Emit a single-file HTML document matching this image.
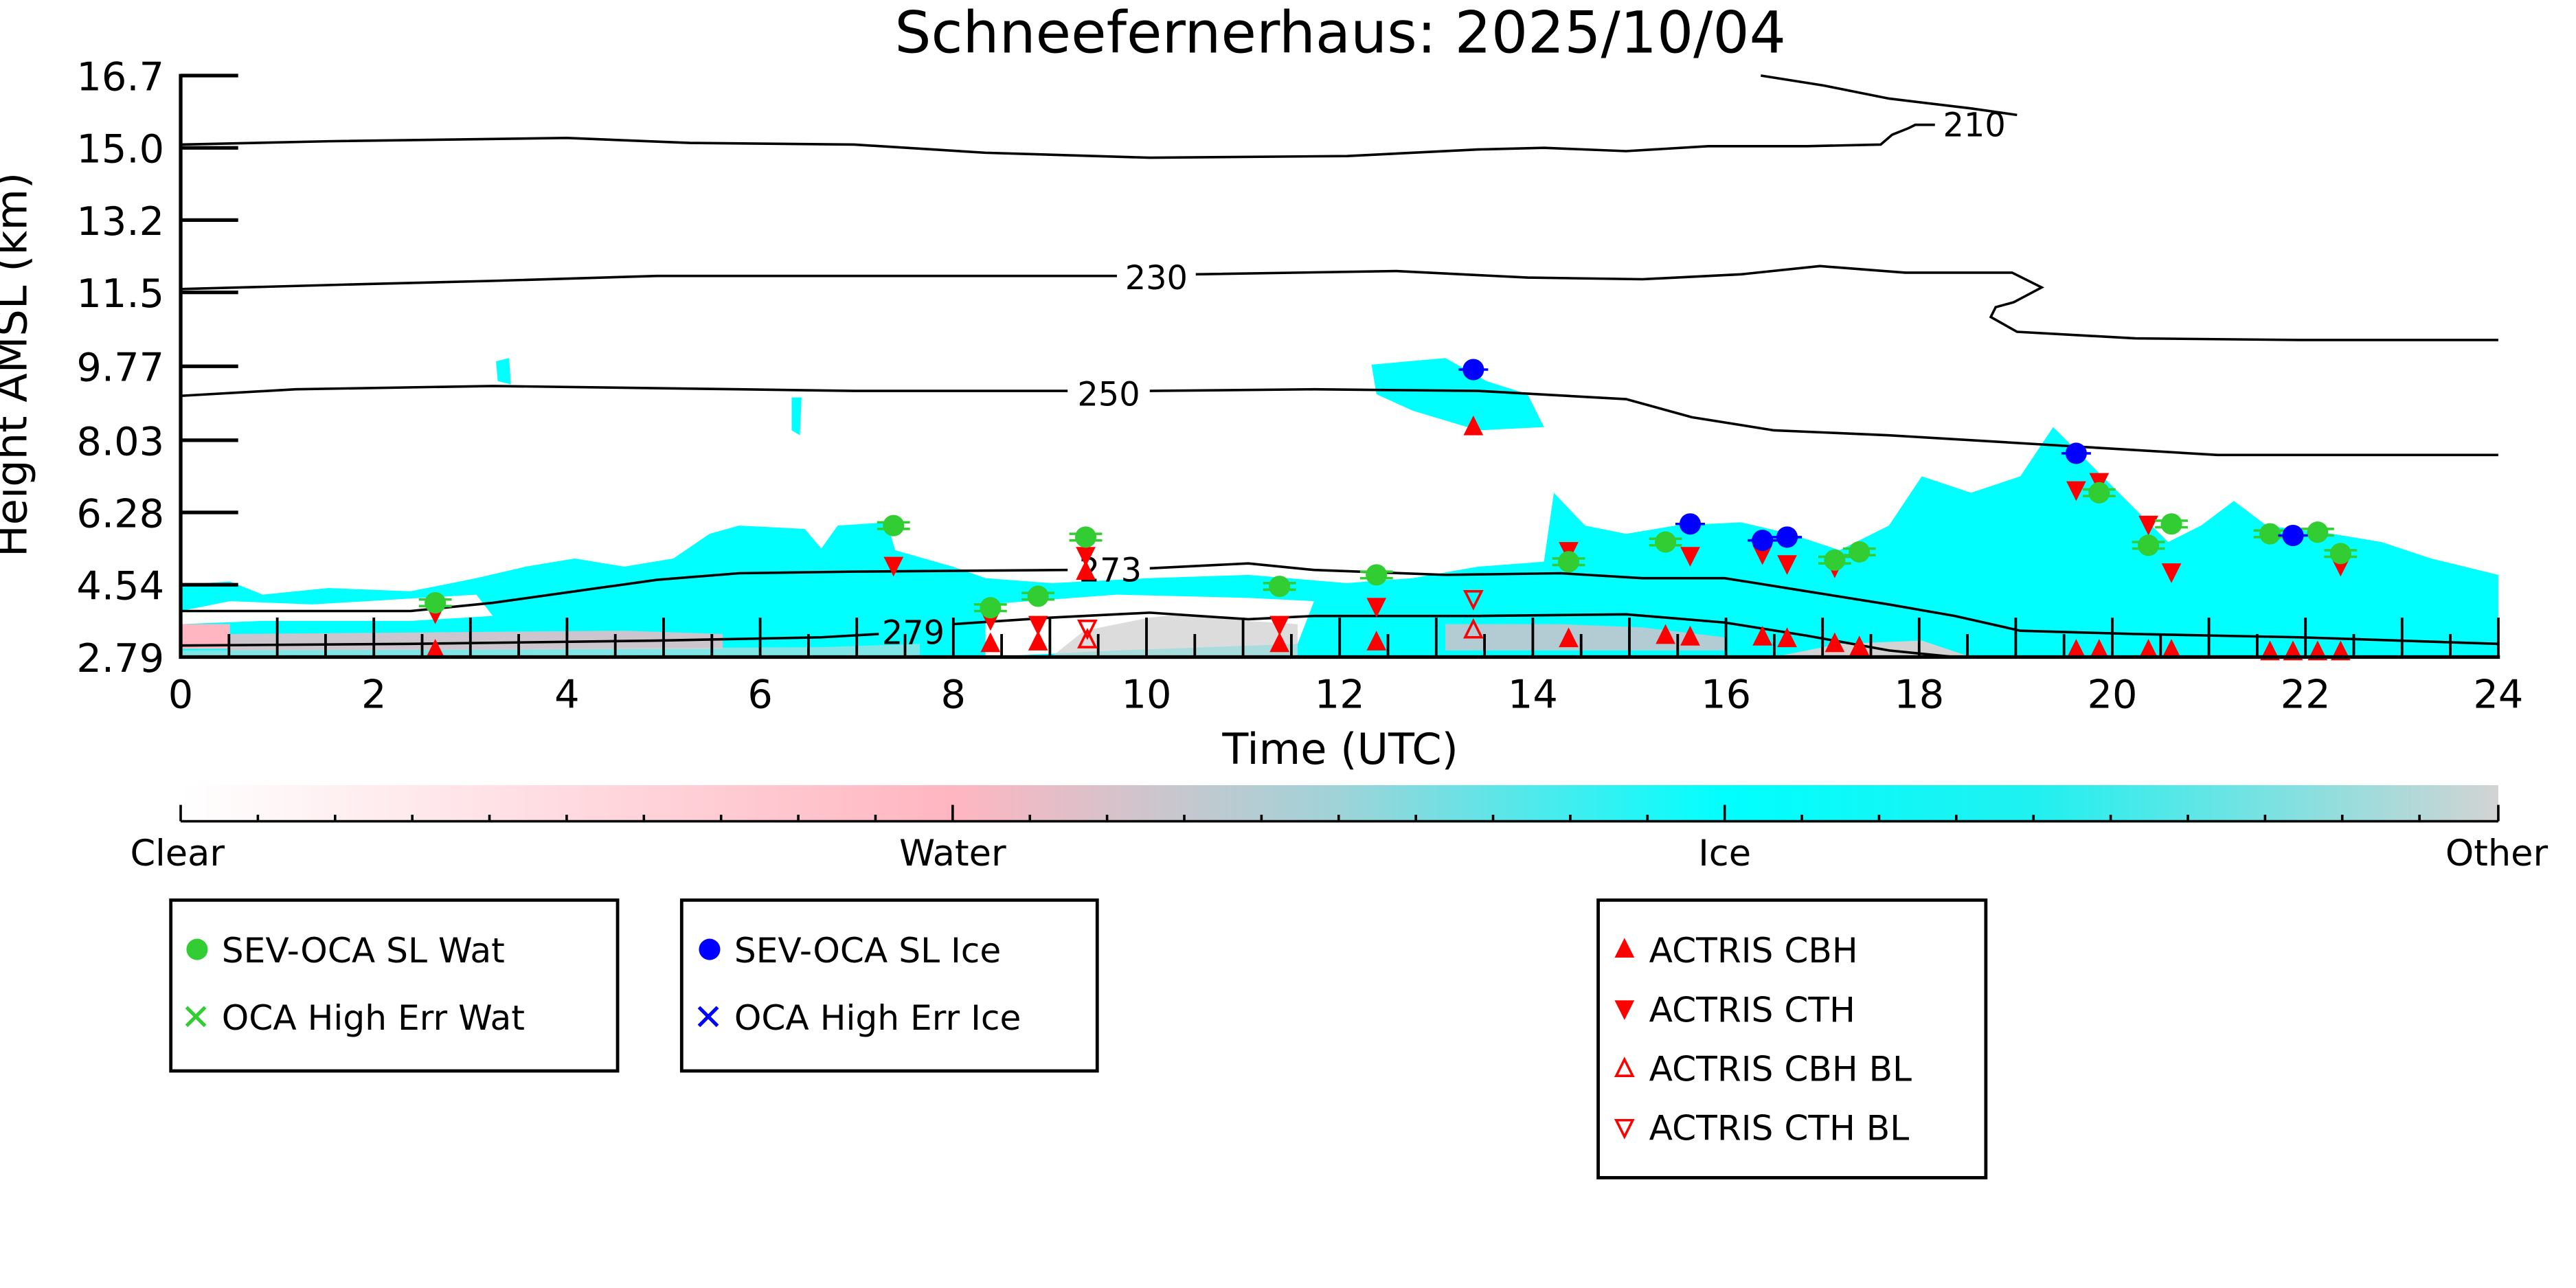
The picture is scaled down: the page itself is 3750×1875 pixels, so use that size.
<!DOCTYPE html>
<html><head><meta charset="utf-8"><style>
html,body{margin:0;padding:0;background:#fff;overflow:hidden}
svg{display:block}
text{font-family:"DejaVu Sans","Liberation Sans",sans-serif;fill:#000}
</style></head><body>
<svg width="3750" height="1875" viewBox="0 0 1562.5 781.25" xmlns="http://www.w3.org/2000/svg">
<defs>
<linearGradient id="cb" x1="0" x2="1" y1="0" y2="0">
<stop offset="0" stop-color="#ffffff"/>
<stop offset="0.333" stop-color="#ffb6c1"/>
<stop offset="0.5" stop-color="#9fd3d8"/>
<stop offset="0.667" stop-color="#00ffff"/>
<stop offset="0.8" stop-color="#20f0f0"/>
<stop offset="1" stop-color="#d3d3d3"/>
</linearGradient>
<g id="gc"><line x1="-10" x2="10" y1="-2" y2="-2" stroke="#32cd32" stroke-width="1.5"/><line x1="-10" x2="10" y1="2" y2="2" stroke="#32cd32" stroke-width="1.5"/><circle r="6.5" fill="#32cd32"/></g>
<g id="bc"><line x1="-9" x2="9" y1="0" y2="0" stroke="#0000ff" stroke-width="1.5"/><circle r="6.5" fill="#0000ff"/></g>
<path id="up" d="M0,-7 L6,5 L-6,5Z" fill="#ff0000"/>
<path id="dn" d="M0,7 L6,-5 L-6,-5Z" fill="#ff0000"/>
<path id="uph" d="M0,-6 L5,4 L-5,4Z" fill="none" stroke="#ff0000" stroke-width="1.5"/>
<path id="dnh" d="M0,6 L5,-4 L-5,-4Z" fill="none" stroke="#ff0000" stroke-width="1.5"/>
</defs>
<g transform="scale(0.9963)">
<text x="816" y="32" font-size="35" text-anchor="middle">Schneefernerhaus: 2025/10/04</text>

<!-- cloud fills -->
<g>
<polygon fill="#00ffff" points="110,400 110,356 140,354 160,362 200,358 250,360 290,352 320,345 350,340 380,345 410,340 432,325 450,320 490,322 500,334 510,320 540,318 545,335 580,345 600,352 640,355 700,352 760,350 820,355 860,352 900,345 940,342 946,300 965,320 990,325 1020,320 1060,318 1090,325 1120,335 1150,320 1170,290 1200,300 1230,290 1250,260 1270,280 1290,300 1320,330 1340,320 1360,305 1380,320 1420,325 1450,330 1480,340 1521,350 1521,400"/>
<polygon fill="#00ffff" points="835,222 880,218 905,232 930,240 940,260 900,262 860,250 838,240"/>
<polygon fill="#00ffff" points="302,220 310,218 311,234 303,232"/>
<polygon fill="#00ffff" points="482,242 488,242 487,265 482,262"/>
<polygon fill="#ffffff" points="600,400 600,368 680,362 760,364 800,366 790,392 680,396"/>
<polygon fill="#d3d3d3" opacity="0.8" points="640,400 660,384 700,376 720,374 760,378 790,380 790,400"/>
<polygon fill="#ffffff" points="110,372 140,366 190,368 240,365 290,362 300,375 250,378 160,378 110,380"/>
<polygon fill="#ffb6c1" points="110,380 140,380 140,395 110,395"/>
<polygon fill="#ffb6c1" opacity="0.8" points="140,386 260,385 380,384 440,386 440,395 140,396"/>
<polygon fill="#ffb6c1" opacity="0.7" points="880,380 950,380 1000,382 1050,388 1050,396 880,396"/>
<polygon fill="#d3d3d3" points="1080,400 1120,392 1170,390 1200,400"/>
<polygon fill="#d3d3d3" opacity="0.6" points="110,400 110,396 500,394 560,392 560,400"/>
</g>

<!-- contours -->
<g fill="none" stroke="#000" stroke-width="1.5">
<polyline points="1072,46 1110,52 1150,60 1200,66 1228,70"/>
<polyline points="110,88 200,86 345,84 420,87 520,88 600,93 700,96 820,95 900,91 940,90 990,92 1040,89 1100,89 1145,88 1152,82 1162,78 1166,76 1178,76"/>
<polyline points="110,176 220,173 300,171 400,168 500,168 680,168"/>
<polyline points="728,167 850,165 930,169 1000,170 1060,167 1108,162 1160,166 1225,166 1243,175 1226,184 1215,187 1212,193 1228,202 1300,206 1400,207 1521,207"/>
<polyline points="110,241 180,237 300,235 450,237 520,238 650,238"/>
<polyline points="700,238 800,237 900,238 990,243 1030,254 1080,262 1150,265 1250,271 1350,277 1521,277"/>
<polyline points="110,372 180,372 250,372 300,367 350,360 400,353 450,349 520,348 650,347"/>
<polyline points="700,346 760,343 800,347 880,350 950,349 1000,352 1050,352 1100,360 1150,368 1190,375 1230,384 1300,386 1400,388 1521,392"/>
<polyline points="110,393 250,392 400,390 500,388 535,386"/>
<polyline points="580,380 640,376 700,373 760,377 800,375 900,375 990,374 1050,379 1100,387 1150,396 1190,400"/>
</g>
<g font-size="20" text-anchor="middle">
<text x="1202" y="83">210</text>
<text x="704" y="176">230</text>
<text x="675" y="247">250</text>
<text x="676" y="354">273</text>
<text x="556" y="392">279</text>
</g>

<!-- markers -->
<g>
<use href="#up" x="265" y="396"/><use href="#up" x="603" y="392"/><use href="#up" x="632" y="391"/><use href="#up" x="661" y="348"/><use href="#up" x="779" y="392"/><use href="#up" x="838" y="391"/><use href="#up" x="897" y="260"/><use href="#up" x="955" y="389"/><use href="#up" x="1014" y="387"/><use href="#up" x="1029" y="388"/><use href="#up" x="1073" y="388"/><use href="#up" x="1088" y="389"/><use href="#up" x="1117" y="392"/><use href="#up" x="1132" y="394"/><use href="#up" x="1264" y="396"/><use href="#up" x="1278" y="396"/><use href="#up" x="1308" y="396"/><use href="#up" x="1322" y="396"/><use href="#up" x="1382" y="397"/><use href="#up" x="1396" y="397"/><use href="#up" x="1411" y="397"/><use href="#up" x="1425" y="397"/>
<use href="#dn" x="265" y="373"/><use href="#dn" x="544" y="344"/><use href="#dn" x="603" y="377"/><use href="#dn" x="632" y="380"/><use href="#dn" x="661" y="338"/><use href="#dn" x="779" y="380"/><use href="#dn" x="838" y="369"/><use href="#dn" x="955" y="335"/><use href="#dn" x="1029" y="338"/><use href="#dn" x="1073" y="337"/><use href="#dn" x="1088" y="343"/><use href="#dn" x="1117" y="345"/><use href="#dn" x="1264" y="298"/><use href="#dn" x="1278" y="293"/><use href="#dn" x="1308" y="319"/><use href="#dn" x="1322" y="348"/><use href="#dn" x="1425" y="344"/>
<use href="#uph" x="662" y="390"/><use href="#uph" x="897" y="384"/><use href="#dnh" x="662" y="382"/><use href="#dnh" x="897" y="364"/>
<use href="#gc" x="265" y="367"/><use href="#gc" x="544" y="320"/><use href="#gc" x="603" y="370"/><use href="#gc" x="632" y="363"/><use href="#gc" x="661" y="327"/><use href="#gc" x="779" y="357"/><use href="#gc" x="838" y="350"/><use href="#gc" x="955" y="342"/><use href="#gc" x="1014" y="330"/><use href="#gc" x="1117" y="341"/><use href="#gc" x="1132" y="336"/><use href="#gc" x="1278" y="300"/><use href="#gc" x="1308" y="332"/><use href="#gc" x="1322" y="319"/><use href="#gc" x="1382" y="325"/><use href="#gc" x="1411" y="324"/><use href="#gc" x="1425" y="337"/>
<use href="#bc" x="897" y="225"/><use href="#bc" x="1029" y="319"/><use href="#bc" x="1073" y="329"/><use href="#bc" x="1088" y="327"/><use href="#bc" x="1264" y="276"/><use href="#bc" x="1396" y="326"/>
</g>

<!-- axes -->
<g stroke="#000" stroke-width="2.2">
<line x1="110" y1="45" x2="110" y2="401"/>
<line x1="109" y1="400" x2="1522" y2="400"/>
<line x1="110" x2="145" y1="46" y2="46"/><line x1="110" x2="145" y1="90" y2="90"/><line x1="110" x2="145" y1="134" y2="134"/><line x1="110" x2="145" y1="178" y2="178"/><line x1="110" x2="145" y1="223" y2="223"/><line x1="110" x2="145" y1="268" y2="268"/><line x1="110" x2="145" y1="312" y2="312"/><line x1="110" x2="145" y1="356" y2="356"/>
</g>
<g stroke="#000" stroke-width="1.6">
<line x1="139.4" x2="139.4" y1="386" y2="400"/><line x1="168.8" x2="168.8" y1="376" y2="400"/><line x1="198.2" x2="198.2" y1="386" y2="400"/><line x1="227.6" x2="227.6" y1="376" y2="400"/><line x1="257" x2="257" y1="386" y2="400"/><line x1="286.4" x2="286.4" y1="376" y2="400"/><line x1="315.8" x2="315.8" y1="386" y2="400"/><line x1="345.2" x2="345.2" y1="376" y2="400"/><line x1="374.6" x2="374.6" y1="386" y2="400"/><line x1="404" x2="404" y1="376" y2="400"/><line x1="433.4" x2="433.4" y1="386" y2="400"/><line x1="462.8" x2="462.8" y1="376" y2="400"/><line x1="492.2" x2="492.2" y1="386" y2="400"/><line x1="521.6" x2="521.6" y1="376" y2="400"/><line x1="551" x2="551" y1="386" y2="400"/><line x1="580.4" x2="580.4" y1="376" y2="400"/><line x1="609.8" x2="609.8" y1="386" y2="400"/><line x1="639.2" x2="639.2" y1="376" y2="400"/><line x1="668.6" x2="668.6" y1="386" y2="400"/><line x1="698" x2="698" y1="376" y2="400"/><line x1="727.4" x2="727.4" y1="386" y2="400"/><line x1="756.8" x2="756.8" y1="376" y2="400"/><line x1="786.2" x2="786.2" y1="386" y2="400"/><line x1="815.6" x2="815.6" y1="376" y2="400"/><line x1="845" x2="845" y1="386" y2="400"/><line x1="874.4" x2="874.4" y1="376" y2="400"/><line x1="903.8" x2="903.8" y1="386" y2="400"/><line x1="933.2" x2="933.2" y1="376" y2="400"/><line x1="962.6" x2="962.6" y1="386" y2="400"/><line x1="992" x2="992" y1="376" y2="400"/><line x1="1021.4" x2="1021.4" y1="386" y2="400"/><line x1="1050.8" x2="1050.8" y1="376" y2="400"/><line x1="1080.2" x2="1080.2" y1="386" y2="400"/><line x1="1109.6" x2="1109.6" y1="376" y2="400"/><line x1="1139" x2="1139" y1="386" y2="400"/><line x1="1168.4" x2="1168.4" y1="376" y2="400"/><line x1="1197.8" x2="1197.8" y1="386" y2="400"/><line x1="1227.2" x2="1227.2" y1="376" y2="400"/><line x1="1256.6" x2="1256.6" y1="386" y2="400"/><line x1="1286" x2="1286" y1="376" y2="400"/><line x1="1315.4" x2="1315.4" y1="386" y2="400"/><line x1="1344.8" x2="1344.8" y1="376" y2="400"/><line x1="1374.2" x2="1374.2" y1="386" y2="400"/><line x1="1403.6" x2="1403.6" y1="376" y2="400"/><line x1="1433" x2="1433" y1="386" y2="400"/><line x1="1462.4" x2="1462.4" y1="376" y2="400"/><line x1="1491.8" x2="1491.8" y1="386" y2="400"/><line x1="1521" x2="1521" y1="376" y2="400"/>
</g>
<g font-size="24" text-anchor="end">
<text x="100" y="55">16.7</text><text x="100" y="99">15.0</text><text x="100" y="143">13.2</text><text x="100" y="187">11.5</text><text x="100" y="232">9.77</text><text x="100" y="277">8.03</text><text x="100" y="321">6.28</text><text x="100" y="365">4.54</text><text x="100" y="409">2.79</text>
</g>
<g font-size="24" text-anchor="middle">
<text x="110" y="431">0</text><text x="227.6" y="431">2</text><text x="345.2" y="431">4</text><text x="462.8" y="431">6</text><text x="580.4" y="431">8</text><text x="698" y="431">10</text><text x="815.6" y="431">12</text><text x="933.2" y="431">14</text><text x="1050.8" y="431">16</text><text x="1168.4" y="431">18</text><text x="1286" y="431">20</text><text x="1403.6" y="431">22</text><text x="1521" y="431">24</text>
<text x="816" y="465" font-size="26">Time (UTC)</text>
</g>
<text transform="translate(16,222) rotate(-90)" font-size="26" text-anchor="middle">Height AMSL (km)</text>

<!-- colorbar -->
<rect x="110" y="478" width="1411" height="22" fill="url(#cb)"/>
<g stroke="#000" stroke-width="1.5">
<line x1="110" x2="1521" y1="500" y2="500"/>
<line x1="110" x2="110" y1="490" y2="500"/><line x1="1521" x2="1521" y1="490" y2="500"/>
<line x1="580" x2="580" y1="490" y2="500"/><line x1="1050" x2="1050" y1="490" y2="500"/>
<line x1="157" x2="157" y1="496" y2="500"/><line x1="204" x2="204" y1="496" y2="500"/><line x1="251" x2="251" y1="496" y2="500"/><line x1="298" x2="298" y1="496" y2="500"/><line x1="345" x2="345" y1="496" y2="500"/><line x1="392" x2="392" y1="496" y2="500"/><line x1="439" x2="439" y1="496" y2="500"/><line x1="486" x2="486" y1="496" y2="500"/><line x1="533" x2="533" y1="496" y2="500"/><line x1="627" x2="627" y1="496" y2="500"/><line x1="674" x2="674" y1="496" y2="500"/><line x1="721" x2="721" y1="496" y2="500"/><line x1="768" x2="768" y1="496" y2="500"/><line x1="815" x2="815" y1="496" y2="500"/><line x1="862" x2="862" y1="496" y2="500"/><line x1="909" x2="909" y1="496" y2="500"/><line x1="956" x2="956" y1="496" y2="500"/><line x1="1003" x2="1003" y1="496" y2="500"/><line x1="1097" x2="1097" y1="496" y2="500"/><line x1="1144" x2="1144" y1="496" y2="500"/><line x1="1191" x2="1191" y1="496" y2="500"/><line x1="1238" x2="1238" y1="496" y2="500"/><line x1="1285" x2="1285" y1="496" y2="500"/><line x1="1332" x2="1332" y1="496" y2="500"/><line x1="1379" x2="1379" y1="496" y2="500"/><line x1="1426" x2="1426" y1="496" y2="500"/><line x1="1473" x2="1473" y1="496" y2="500"/>
</g>
<g font-size="22" text-anchor="middle">
<text x="108" y="527">Clear</text><text x="580" y="527">Water</text><text x="1050" y="527">Ice</text><text x="1520" y="527">Other</text>
</g>

<!-- legends -->
<g fill="none" stroke="#000" stroke-width="2">
<rect x="104" y="548" width="272" height="104"/>
<rect x="415" y="548" width="253" height="104"/>
<rect x="973" y="548" width="236" height="169"/>
</g>
<g font-size="21">
<circle cx="120" cy="578" r="6.5" fill="#32cd32"/><text x="135" y="586">SEV-OCA SL Wat</text>
<text x="110" y="627" font-size="22" style="fill:#32cd32">✕</text><text x="135" y="627">OCA High Err Wat</text>
<circle cx="432" cy="578" r="6.5" fill="#0000ff"/><text x="447" y="586">SEV-OCA SL Ice</text>
<text x="422" y="627" style="fill:#0000ff" font-size="22">✕</text><text x="447" y="627">OCA High Err Ice</text>
<use href="#up" x="989" y="578"/><text x="1004" y="586">ACTRIS CBH</text>
<use href="#dn" x="989" y="614"/><text x="1004" y="622">ACTRIS CTH</text>
<use href="#uph" x="989" y="651"/><text x="1004" y="658">ACTRIS CBH BL</text>
<use href="#dnh" x="989" y="686"/><text x="1004" y="694">ACTRIS CTH BL</text>
</g>
</g>
</svg>
</body></html>
